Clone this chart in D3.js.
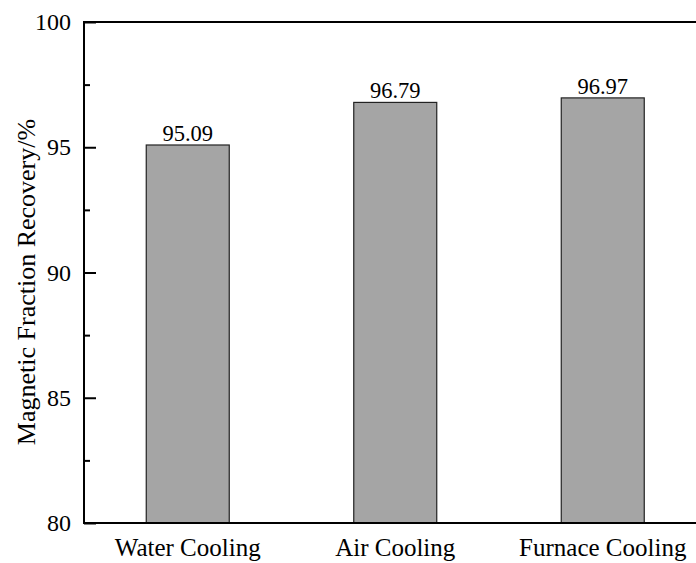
<!DOCTYPE html>
<html><head><meta charset="utf-8">
<script src="https://cdn.jsdelivr.net/npm/d3@7"></script>
<style>body{margin:0;background:#fff}svg{display:block}</style>
</head><body>
<script>
const categories = ["Water Cooling", "Air Cooling", "Furnace Cooling"];
const values = [95.09, 96.79, 96.97];
const valueLabels = ["95.09", "96.79", "96.97"];
const yTicks = [80, 85, 90, 95, 100];
const yMinorTicks = [82.5, 87.5, 92.5, 97.5];
const yLabel = "Magnetic Fraction Recovery/%";

const FONT = "Liberation Serif, Times New Roman, serif";
const W = 696, H = 563;
const mLeft = 84, mTop = 22, mBottom = 523, mRight = 706.5;
const svg = d3.select("body").append("svg").attr("width", W).attr("height", H)
  .attr("font-family", FONT);

const x = d3.scaleBand().domain(categories).range([mLeft, mRight]).paddingInner(0.6).paddingOuter(0.3);
const y = d3.scaleLinear().domain([80, 100]).range([mBottom, mTop]);

// bars
svg.selectAll("rect.bar").data(values).enter().append("rect")
  .attr("x", (d, i) => x(categories[i]))
  .attr("y", d => y(d))
  .attr("width", x.bandwidth())
  .attr("height", d => mBottom - y(d))
  .attr("fill", "#a5a5a5").attr("stroke", "#222").attr("stroke-width", 1.2);

svg.selectAll("text.val").data(values).enter().append("text")
  .attr("font-family", FONT)
  .attr("x", (d, i) => x(categories[i]) + x.bandwidth() / 2)
  .attr("y", d => y(d) - 4)
  .attr("text-anchor", "middle").attr("font-size", 22.5)
  .text((d, i) => valueLabels[i]);

// y axis ticks
const yAxis = svg.append("g").attr("transform", `translate(${mLeft},0)`)
  .call(d3.axisRight(y).tickValues(yTicks).tickSize(12).tickFormat(""));
yAxis.select(".domain").remove();
yAxis.selectAll("line").attr("stroke", "#000").attr("stroke-width", 2);
const yMinor = svg.append("g").attr("transform", `translate(${mLeft},0)`)
  .call(d3.axisRight(y).tickValues(yMinorTicks).tickSize(6).tickFormat(""));
yMinor.select(".domain").remove();
yMinor.selectAll("line").attr("stroke", "#000").attr("stroke-width", 2);

svg.selectAll("text.ytick").data(yTicks).enter().append("text")
  .attr("font-family", FONT)
  .attr("x", mLeft - 13).attr("y", d => y(d) + 8)
  .attr("text-anchor", "end").attr("font-size", 24).text(d => d);

// frame
svg.append("line").attr("x1", mLeft).attr("x2", mLeft).attr("y1", mTop).attr("y2", mBottom + 1).attr("stroke", "#000").attr("stroke-width", 2);
svg.append("line").attr("x1", mLeft - 1).attr("x2", W).attr("y1", mTop).attr("y2", mTop).attr("stroke", "#000").attr("stroke-width", 2);
svg.append("line").attr("x1", mLeft - 1).attr("x2", W).attr("y1", mBottom).attr("y2", mBottom).attr("stroke", "#000").attr("stroke-width", 2);

// x labels
const xAxis = svg.append("g").attr("transform", `translate(0,${mBottom})`)
  .call(d3.axisBottom(x).tickSize(0).tickPadding(0));
xAxis.attr("font-family", FONT).attr("font-size", 25);
xAxis.select(".domain").remove();
xAxis.selectAll("text").attr("font-family", FONT).attr("font-size", 25).attr("dy", null).attr("y", 33)
  .attr("fill", "#000");

svg.append("text").attr("font-family", FONT)
  .attr("transform", `translate(35,282) rotate(-90)`)
  .attr("text-anchor", "middle").attr("font-size", 26).attr("fill", "#000").text(yLabel);
</script>
</body></html>
